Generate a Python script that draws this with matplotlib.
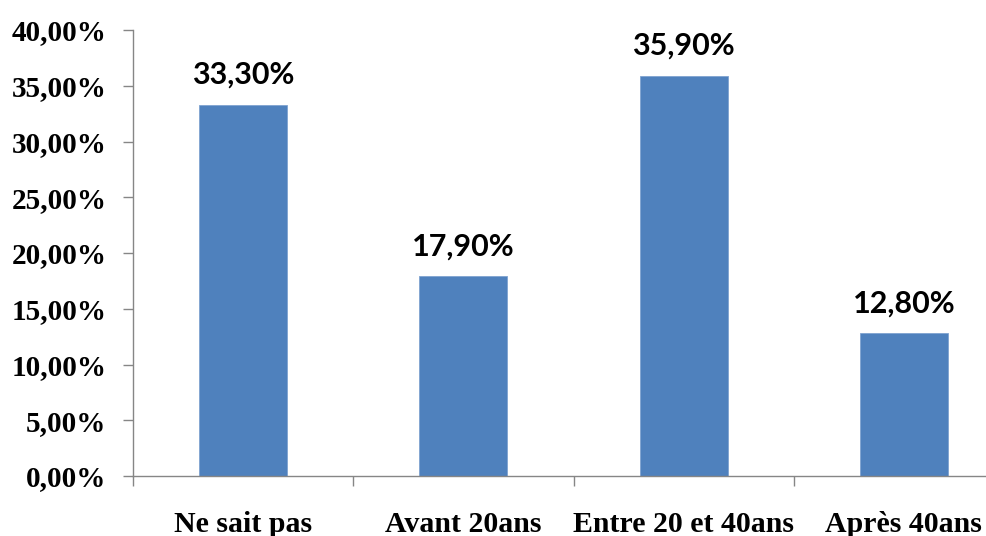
import matplotlib.pyplot as plt
import numpy as np

# data
categories = ['Ne sait pas', 'Avant 20ans', 'Entre 20 et 40ans', 'Après 40ans']
values = [33.3, 17.9, 35.9, 12.8]
yticks = [0, 5, 10, 15, 20, 25, 30, 35, 40]

fig = plt.figure(figsize=(9.87, 5.36), dpi=100)
# plot area runs a bit past the right edge of the picture, like the original
ax = fig.add_axes([133/987, 60/536, 881/987, 446/536])

x = np.arange(len(categories))
ax.bar(x, values, width=0.4, color='#4F81BD', edgecolor='#7FA3D0', linewidth=0.6)

for xi, v in zip(x, values):
    lab = ('%.2f' % v).replace('.', ',') + '%'
    ax.annotate(lab, (xi, v), xytext=(0, 15), textcoords='offset points',
                ha='center', va='baseline', fontsize=22, fontfamily='Lato',
                fontweight='bold')

ax.set_xlim(-0.5, len(categories) - 0.5)
ax.set_ylim(0, 40)
ax.set_yticks(yticks)
ax.set_yticklabels([('%.2f' % t).replace('.', ',') + '%' for t in yticks],
                   fontfamily='Liberation Serif', fontweight='bold', fontsize=21)

# category labels centred, tick marks on the boundaries
ax.set_xticks(x)
ax.set_xticklabels(categories, fontfamily='Liberation Serif', fontweight='bold', fontsize=21.5)
ax.tick_params(axis='x', which='major', length=0, pad=25)
ax.set_xticks(np.arange(len(categories) + 1) - 0.5, minor=True)
ax.tick_params(axis='x', which='minor', length=7, color='#868686', width=1)
ax.tick_params(axis='y', length=7, color='#868686', width=1, pad=12)

for s in ['top', 'right']:
    ax.spines[s].set_visible(False)
for s in ['left', 'bottom']:
    ax.spines[s].set_color('#868686')
    ax.spines[s].set_linewidth(1)

plt.savefig('out.png', dpi=100)
